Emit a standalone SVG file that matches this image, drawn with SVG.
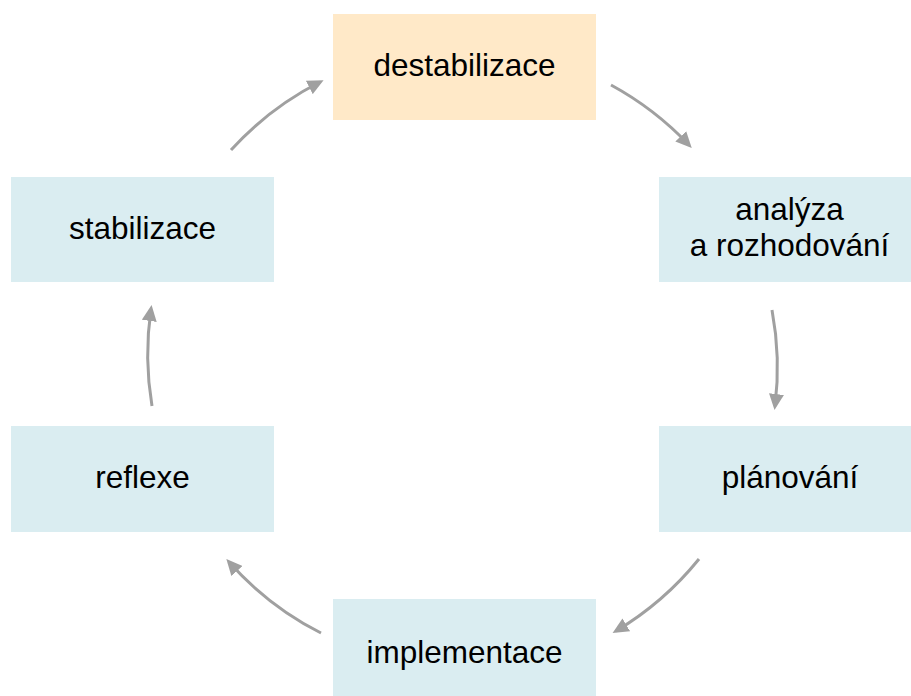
<svg xmlns="http://www.w3.org/2000/svg" width="911" height="696" viewBox="0 0 911 696">
<style>
.box{fill:#DAEDF1;}
.hl{fill:#FFE9C8;}
text{font-family:"Liberation Sans",Arial,sans-serif;font-size:31.5px;fill:#000;text-anchor:middle;}
.c{fill:none;stroke:#A0A0A0;stroke-width:3;marker-end:url(#ah);}
</style>
<defs>
<marker id="ah" markerUnits="userSpaceOnUse" markerWidth="17" markerHeight="15" refX="12" refY="7.5" orient="auto">
<path d="M0,0 L16,7.5 L0,15 z" fill="#A0A0A0"/>
</marker>
</defs>
<rect width="911" height="696" fill="#fff"/>
<g id="connectors">
<path class="c" d="M231,150 A312,312 0 0 1 320,82"/>
<path class="c" d="M611,85 A312,312 0 0 1 689,145"/>
<path class="c" d="M772,310 A312,312 0 0 1 775,406"/>
<path class="c" d="M699,559 A312,312 0 0 1 616,631"/>
<path class="c" d="M321,633 A312,312 0 0 1 229,562"/>
<path class="c" d="M152,406 A312,312 0 0 1 151,309"/>
</g>
<g id="destabilizace">
<rect class="hl" x="333" y="14" width="263" height="106"/>
<text x="464.5" y="76">destabilizace</text>
</g>
<g id="analyza">
<rect class="box" x="659" y="177" width="263" height="105"/>
<text x="789.5" y="220">analýza</text>
<text x="789.5" y="256">a rozhodování</text>
</g>
<g id="planovani">
<rect class="box" x="659" y="426" width="263" height="106"/>
<text x="790" y="488">plánování</text>
</g>
<g id="implementace">
<rect class="box" x="333" y="599" width="263" height="106"/>
<text x="464.5" y="663">implementace</text>
</g>
<g id="reflexe">
<rect class="box" x="11" y="426" width="263" height="106"/>
<text x="142.5" y="488">reflexe</text>
</g>
<g id="stabilizace">
<rect class="box" x="11" y="177" width="263" height="105"/>
<text x="142.5" y="239">stabilizace</text>
</g>
</svg>
